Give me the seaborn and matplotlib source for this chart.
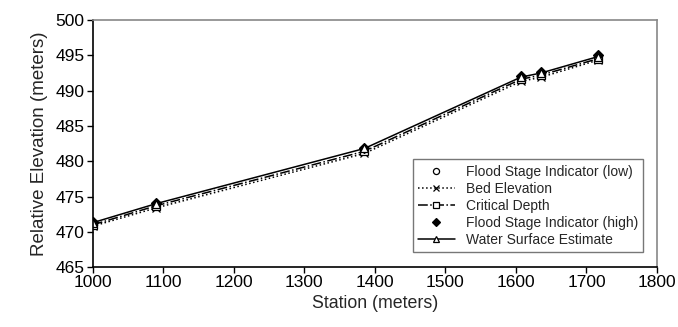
import matplotlib
matplotlib.use('Agg')
import matplotlib.pyplot as plt
import seaborn as sns

sns.set_style('white')
plt.rcParams['font.family'] = ['Liberation Sans', 'DejaVu Sans']

station = [1000, 1090, 1385, 1607, 1636, 1716]

fs_low   = [471.2, 473.9, 481.7, 491.8, 492.4, 494.7]
bed      = [470.8, 473.4, 481.1, 491.3, 491.9, 494.3]
critical = [471.0, 473.7, 481.4, 491.6, 492.2, 494.5]
fs_high  = [471.4, 474.1, 481.9, 492.0, 492.7, 495.0]
water    = [471.3, 474.0, 481.8, 491.9, 492.5, 494.8]

fig = plt.figure(figsize=(6.78, 3.27), dpi=100)
ax = fig.add_axes([0.137, 0.183, 0.832, 0.756])

# series: (values, label, marker, linestyle, fill)
series = [
    (fs_low,   'Flood Stage Indicator (low)',  'o', 'none', 'white'),
    (bed,      'Bed Elevation',                'x', ':',    'black'),
    (critical, 'Critical Depth',               's', '-.',   'white'),
    (fs_high,  'Flood Stage Indicator (high)', 'D', 'none', 'black'),
    (water,    'Water Surface Estimate',       '^', '-',    'white'),
]

for vals, lab, mk, ls, fc in series:
    sns.lineplot(x=station, y=vals, ax=ax, color='black', marker=mk,
                 linestyle=ls, linewidth=1.1, markersize=5.5,
                 markerfacecolor=fc, markeredgecolor='black',
                 markeredgewidth=0.9, label=lab)

ax.set_xlim(1000, 1800)
ax.set_ylim(465, 500)
ax.set_xticks(range(1000, 1801, 100))
ax.set_yticks(range(465, 501, 5))
ax.tick_params(axis='both', direction='out', length=4, width=1, labelsize=12.5,
               colors='black', left=True, bottom=True, pad=2)
ax.set_xlabel('Station (meters)', fontsize=12.8, labelpad=3)
ax.set_ylabel('Relative Elevation (meters)', fontsize=13.5, labelpad=5)

for s in ['left', 'bottom']:
    ax.spines[s].set_color('black')
    ax.spines[s].set_linewidth(1.2)
for s in ['top', 'right']:
    ax.spines[s].set_color('#888888')
    ax.spines[s].set_linewidth(1.2)

leg = ax.legend(loc='lower right', fontsize=10, frameon=True, fancybox=False,
                edgecolor='#555555', handlelength=2.6, labelspacing=0.22,
                markerscale=0.8, borderpad=0.4, borderaxespad=0,
                bbox_to_anchor=(0.976, 0.06))
leg.get_frame().set_linewidth(1.0)

fig.savefig('out.png', dpi=100)
